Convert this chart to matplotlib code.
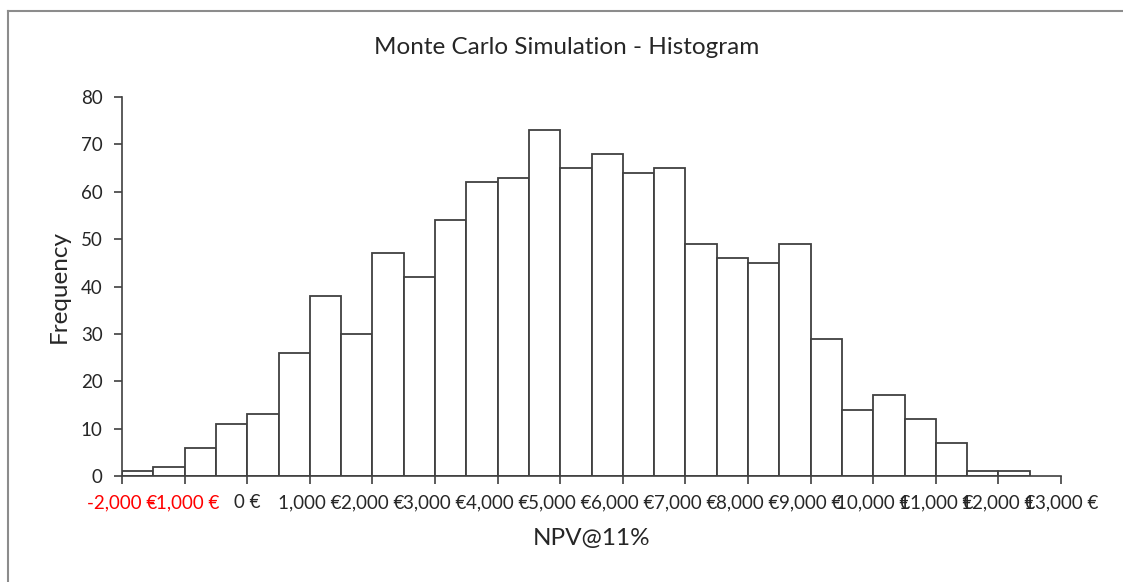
import matplotlib
matplotlib.use('Agg')
import matplotlib.pyplot as plt
from matplotlib.lines import Line2D
import numpy as np

# ── Data ──────────────────────────────────────────────────────────────────────
bin_start = -2000
bin_width = 500
counts = [1, 2, 6, 11, 13, 26, 38, 30, 47, 42, 54, 62, 63, 73, 65,
          68, 64, 65, 49, 46, 45, 49, 29, 14, 17, 12, 7, 1, 1]
xtick_values = list(range(-2000, 13001, 1000))
ytick_values = list(range(0, 81, 10))

EDGE = '#404040'
TEXT = '#262626'
FONT = 'Lato'

plt.rcParams['font.family'] = [FONT, 'DejaVu Sans']

W, H = 1123, 582
fig = plt.figure(figsize=(W / 100, H / 100), dpi=100, facecolor='white')
ax = fig.add_axes([122 / W, 1 - 476 / H, (1061 - 122) / W, (476 - 97) / H])

# ── Bars ──────────────────────────────────────────────────────────────────────
lefts = bin_start + bin_width * np.arange(len(counts))
ax.bar(lefts, counts, width=bin_width, align='edge', color='white',
       edgecolor=EDGE, linewidth=1.3)

ax.set_xlim(-2000, 13000)
ax.set_ylim(0, 80)

for side in ('top', 'right'):
    ax.spines[side].set_visible(False)
for side in ('left', 'bottom'):
    ax.spines[side].set_color(EDGE)
    ax.spines[side].set_linewidth(1.2)

ax.set_yticks(ytick_values)
ax.set_yticklabels([str(v) for v in ytick_values])
ax.set_xticks(xtick_values)
ax.set_xticklabels([f'{v:,} €' for v in xtick_values])
ax.tick_params(axis='both', direction='out', length=6, width=1.2, color=EDGE,
               labelsize=13.5, labelcolor=TEXT)
ax.tick_params(axis='x', pad=7)
ax.tick_params(axis='y', pad=8)
for lbl, v in zip(ax.get_xticklabels(), xtick_values):
    if v < 0:
        lbl.set_color('#ff0000')

ax.set_xlabel('NPV@11%', fontsize=17.5, color=TEXT, labelpad=12)
ax.set_ylabel('Frequency', fontsize=17.5, color=TEXT, labelpad=8)
fig.text(567 / W, 1 - 48 / H, 'Monte Carlo Simulation - Histogram',
         ha='center', va='center', fontsize=17.5, color=TEXT)

# ── Chart frame (left + top visible) ─────────────────────────────────────────
fig.add_artist(Line2D([7.5 / W, 7.5 / W], [0, 1 - 10.5 / H], transform=fig.transFigure,
                      color='#8c8c8c', linewidth=1.5))
fig.add_artist(Line2D([7.5 / W, 1], [1 - 10.5 / H, 1 - 10.5 / H], transform=fig.transFigure,
                      color='#8c8c8c', linewidth=1.5))

plt.savefig('out.png', dpi=100, facecolor='white')
